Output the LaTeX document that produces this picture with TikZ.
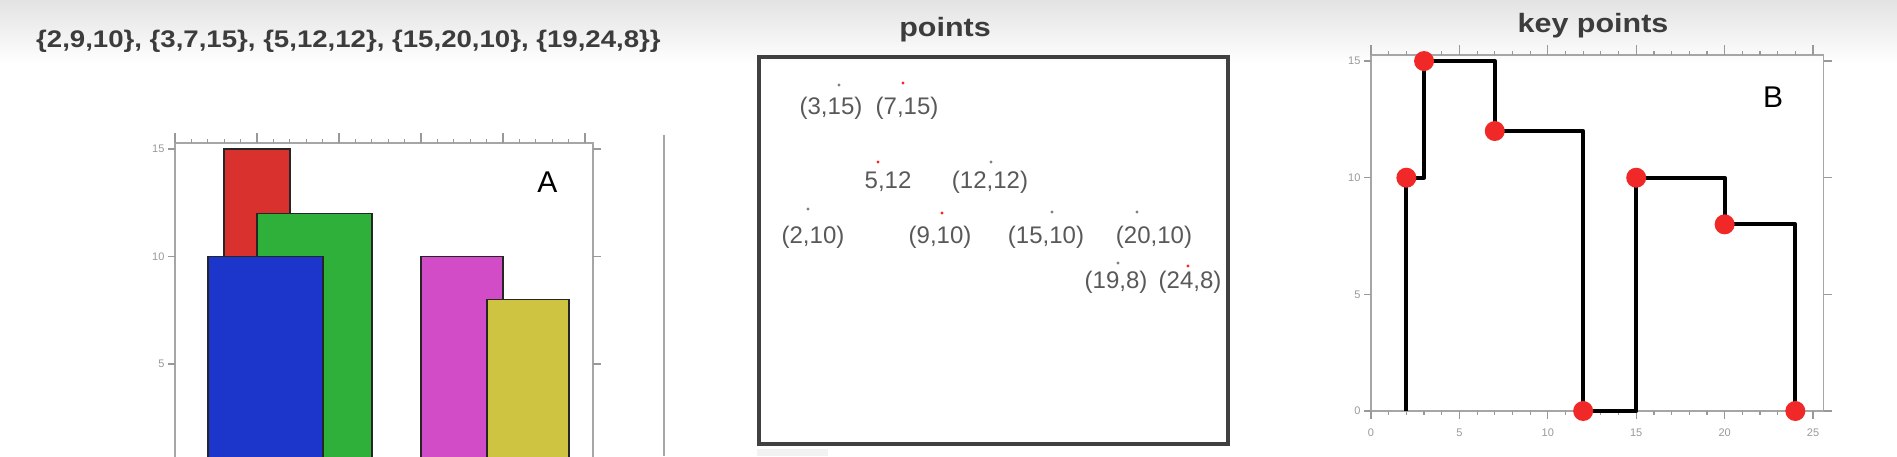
\documentclass[tikz,border=0pt]{standalone}
\usepackage{fontspec}
\setmainfont{Liberation Sans}
\newfontfamily\widefont{Liberation Sans}[FakeStretch=1.15]
\usetikzlibrary{positioning}

\definecolor{barred}{RGB}{217,50,46}
\definecolor{bargreen}{RGB}{46,176,58}
\definecolor{barblue}{RGB}{28,54,204}
\definecolor{barpink}{RGB}{210,76,200}
\definecolor{baryellow}{RGB}{206,196,66}
\definecolor{dotred}{RGB}{240,40,40}
\definecolor{textgray}{RGB}{60,60,60}

\begin{document}
\begin{tikzpicture}[x=1pt, y=-1pt,
  frame/.style={draw=gray!70, line width=1.6pt},
  tick/.style={draw=gray!80, line width=1.2pt},
  ticklbl/.style={font=\fontsize{11}{11}\selectfont, text=gray!80, inner sep=3pt},
  title/.style={font=\widefont\bfseries\fontsize{26.5}{30}\selectfont, text=textgray, inner sep=0pt},
  bar/.style={draw=black!85, line width=1.8pt},
  ptlbl/.style={font=\fontsize{24}{26}\selectfont, text=black!65, inner sep=0pt, anchor=base},
  ptdot/.style={fill=gray!70},
  keydot/.style={circle, fill=dotred, inner sep=0pt, minimum size=20pt},
  skyline/.style={line width=4pt, line join=round},
  panel/.style={font=\fontsize{30}{30}\selectfont, inner sep=0pt}]
\useasboundingbox (0,0) rectangle (1897,456);
\fill[white] (0,0) rectangle (1897,456);
\shade[top color=gray!22, bottom color=white] (0,0) rectangle (1897,64);

% building list
\node[font=\widefont\bfseries\fontsize{24}{26}\selectfont, text=textgray,
  inner sep=0pt, anchor=base west] (sets) at (36,47)
  {\{2,9,10\}, \{3,7,15\}, \{5,12,12\}, \{15,20,10\}, \{19,24,8\}\}};

% panel A: the buildings
\begin{scope}[shift={(175,471.5)}, x=16.4pt, y=21.5pt]
  \foreach \l/\r/\h/\c in {3/7/15/barred, 5/12/12/bargreen, 2/9/10/barblue,
                           15/20/10/barpink, 19/24/8/baryellow}
    \draw[bar, fill=\c] (\l,0.5) rectangle (\r,\h);
  \draw[frame] (0,0.6) -- (0,15.28) -- (25.5,15.28) -- (25.5,0.6);
  \foreach \i in {0,...,25}
    \draw[tick] (\i,15.28) -- ++(0pt,4pt);
  \foreach \i in {0,5,...,25}
    \draw[tick] (\i,15.28) -- ++(0pt,10pt);
  \foreach \v in {5,10,15} {
    \draw[tick] (0,\v) -- ++(-7pt,0pt) node[ticklbl, left] (ay\v) {\v};
    \draw[tick] (25.5,\v) -- ++(8pt,0pt);
  }
  \node[panel] (labA) at (22.7,13.47) {A};
\end{scope}

\draw[gray!70, line width=2pt] (664,135) -- (664,456);

% panel: points
\node[title, anchor=base] (ptitle) at (945,36) {points};
\draw[black!75, line width=3.5pt] (759,57) rectangle (1228,444);
\fill[gray!10] (757,449) rectangle (828,456);
\foreach \x/\y/\c in {839/85/gray, 903/83/dotred, 878/162/dotred, 991/162/gray,
                      808/209/gray, 942/213/dotred, 1052/212/gray, 1137/212/gray,
                      1118/263/gray, 1188/266/dotred}
  \fill[\c] (\x,\y) circle (1.6pt);
\node[ptlbl] (p315) at (831,114) {(3,15)};
\node[ptlbl] (p715) at (907,114) {(7,15)};
\node[ptlbl] (p512) at (888,188) {5,12};
\node[ptlbl] (p1212) at (990,188) {(12,12)};
\node[ptlbl] (p210) at (813,243) {(2,10)};
\node[ptlbl] (p910) at (940,243) {(9,10)};
\node[ptlbl] (p1510) at (1046,243) {(15,10)};
\node[ptlbl] (p2010) at (1154,243) {(20,10)};
\node[ptlbl] (p198) at (1116,288) {(19,8)};
\node[ptlbl] (p248) at (1190,288) {(24,8)};

% panel B: key points
\node[title, anchor=base] (ktitle) at (1593,32) {key points};
\begin{scope}[shift={(1371,411)}, x=17.68pt, y=23.33pt]
  \draw[frame] (0,0) rectangle (25.6,15.26);
  \foreach \i in {0,...,25} {
    \draw[tick] (\i,15.26) -- ++(0pt,4pt);
    \draw[tick] (\i,0) -- ++(0pt,-4pt);
  }
  \foreach \i in {0,5,...,25} {
    \draw[tick] (\i,15.26) -- ++(0pt,10pt);
    \draw[tick] (\i,0) -- ++(0pt,-8pt);
    \node[ticklbl] (bx\i) at (\i,0) [yshift=-22pt] {\i};
  }
  \foreach \v in {0,5,10,15} {
    \draw[tick] (0,\v) -- ++(-7pt,0pt) node[ticklbl, left] (by\v) {\v};
    \draw[tick] (25.6,\v) -- ++(8pt,0pt);
  }
  \draw[skyline] (2,0) -- (2,10) -- (3,10) -- (3,15) -- (7,15) -- (7,12)
    -- (12,12) -- (12,0) -- (15,0) -- (15,10) -- (20,10) -- (20,8)
    -- (24,8) -- (24,0);
  \foreach \kx/\ky in {2/10, 3/15, 7/12, 12/0, 15/10, 20/8, 24/0}
    \node[keydot] (k\kx) at (\kx,\ky) {};
  \node[panel] (labB) at (22.74,13.46) {B};
\end{scope}
\end{tikzpicture}
\end{document}
